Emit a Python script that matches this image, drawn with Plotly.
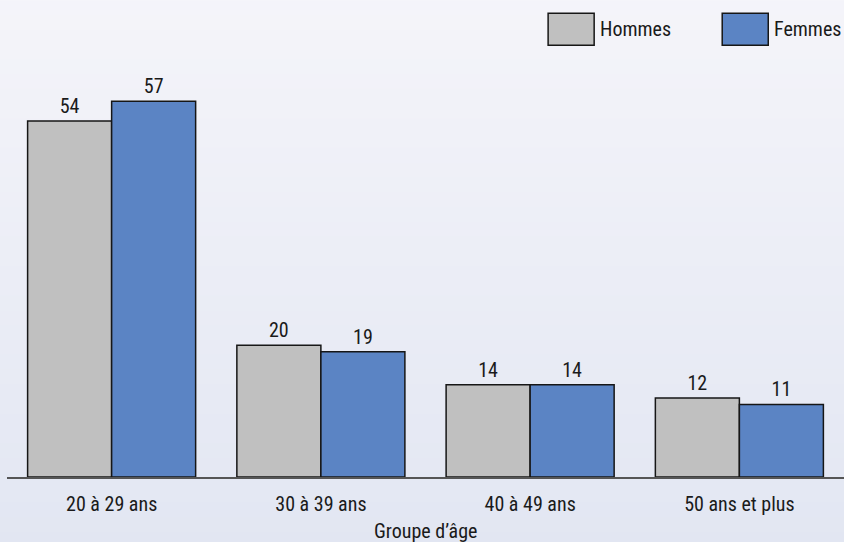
import plotly.graph_objects as go

# Data
categories = ["20 à 29 ans", "30 à 39 ans", "40 à 49 ans", "50 ans et plus"]
series_names = ["Hommes", "Femmes"]
hommes = [54, 20, 14, 12]
femmes = [57, 19, 14, 11]
x_title = "Groupe d’âge"

colors = ["#c0c0c0", "#5b84c4"]
outline = "#161616"
font_family = "Liberation Sans Narrow, Roboto Condensed, Arial Narrow, Roboto, sans-serif"
text_color = "#1a1a1a"
fsize = 20

fig = go.Figure()
for name, vals, col in zip(series_names, [hommes, femmes], colors):
    fig.add_trace(go.Bar(
        x=categories, y=vals, name=name,
        marker=dict(color=col, line=dict(color=outline, width=1.5)),
        text=[str(v) for v in vals], textposition="outside",
        textfont=dict(size=fsize, color=text_color, family=font_family),
        cliponaxis=False, showlegend=False,
    ))

# Soft vertical gradient behind everything
shapes = []
n = 40
top = (245, 245, 250)
bot = (226, 230, 242)
for i in range(n):
    f = i / (n - 1)
    c = tuple(round(top[k] + (bot[k] - top[k]) * f) for k in range(3))
    shapes.append(dict(
        type="rect", xref="paper", yref="paper", layer="below",
        x0=-0.01, x1=1.01,
        y1=1.2 - i * (1.4 / n), y0=1.2 - (i + 1) * (1.4 / n) - 0.002,
        line=dict(width=0), fillcolor="rgb(%d,%d,%d)" % c,
    ))

# Legend drawn as large swatches with labels
annotations = []
legend_x = [0.6465, 0.8545]
for name, col, lx in zip(series_names, colors, legend_x):
    shapes.append(dict(
        type="rect", xref="paper", yref="paper",
        x0=lx, x1=lx + 0.055, y0=1.0 + 0.023, y1=1.0 + 0.099,
        fillcolor=col, line=dict(color=outline, width=1.5),
    ))
    annotations.append(dict(
        xref="paper", yref="paper", x=lx + 0.060, y=1.061,
        xanchor="left", yanchor="middle", showarrow=False, text=name,
        font=dict(size=fsize, color=text_color, family=font_family),
    ))

# Axis title placed under the category labels
annotations.append(dict(
    xref="paper", yref="paper", x=0.5, y=-0.128,
    xanchor="center", yanchor="middle", showarrow=False, text=x_title,
    font=dict(size=fsize, color=text_color, family=font_family),
))

fig.update_layout(
    width=844, height=542,
    margin=dict(l=7, r=0, t=55, b=65, autoexpand=False),
    paper_bgcolor="#eaedf5", plot_bgcolor="rgba(0,0,0,0)",
    barmode="group", bargap=0.197, bargroupgap=0,
    shapes=shapes, annotations=annotations,
    xaxis=dict(
        showline=True, linecolor="#555555", linewidth=1.5,
        ticks="outside", ticklen=8, tickcolor="rgba(0,0,0,0)", showgrid=False,
        automargin=False,
        tickfont=dict(size=fsize, color=text_color, family=font_family),
    ),
    yaxis=dict(visible=False, range=[0, 64], showgrid=False, zeroline=False),
)

fig.write_html("out.html")
